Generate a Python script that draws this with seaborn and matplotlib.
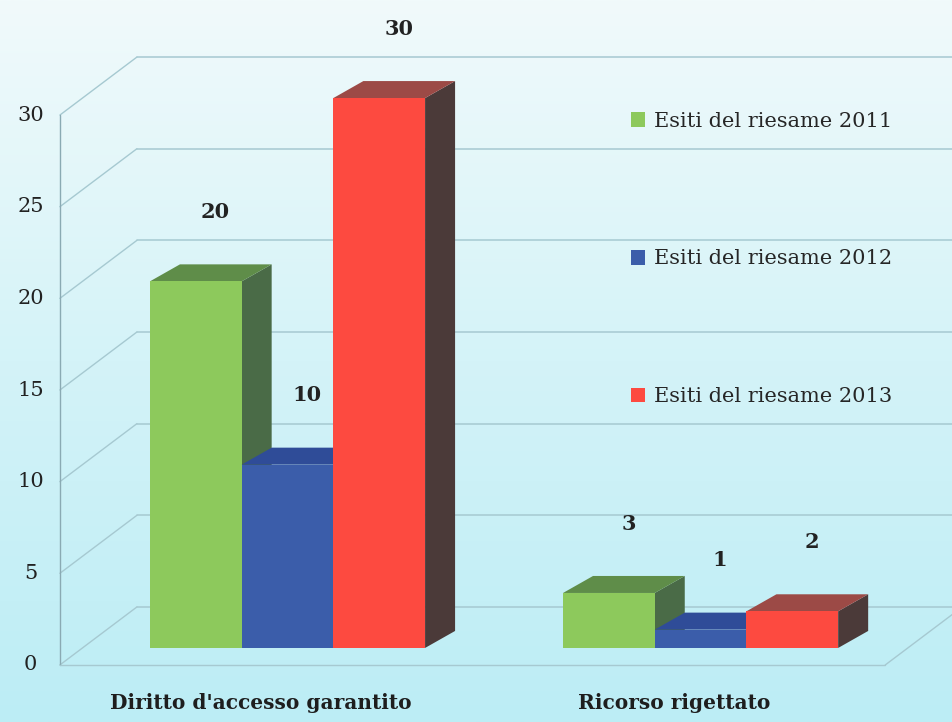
import numpy as np
import pandas as pd
import matplotlib
matplotlib.use("Agg")
import matplotlib.pyplot as plt
from matplotlib.patches import Polygon, Patch
import seaborn as sns

# -------------------------------------
# DATA
# -------------------------------------
categories = ["Diritto d'accesso garantito", "Ricorso rigettato"]
series = ["Esiti del riesame 2011", "Esiti del riesame 2012", "Esiti del riesame 2013"]
values_2011 = [20, 3]
values_2012 = [10, 1]
values_2013 = [30, 2]
y_ticks = [0, 5, 10, 15, 20, 25, 30]

front_colors = ["#8dc95c", "#3b5daa", "#fd4a40"]
top_colors = ["#5f8d49", "#2f4c98", "#9c4a46"]
side_colors = ["#4a6b47", "#24386e", "#4b3a39"]

df = pd.DataFrame({
    "categoria": categories * 3,
    "serie": [series[0]] * 2 + [series[1]] * 2 + [series[2]] * 2,
    "valore": values_2011 + values_2012 + values_2013,
})

# -------------------------------------
# FIGURE
# -------------------------------------
sns.set_style("white")
plt.rcParams["font.family"] = ["DejaVu Serif"]

fig = plt.figure(figsize=(9.53, 7.22), dpi=100)
ax = fig.add_axes([0, 0, 1, 1])

XLIM = (-0.696, 1.611)
YLIM = (-4.04, 35.35)

# -------------------------------------
# BARS (front faces)
# -------------------------------------
sns.barplot(data=df, x="categoria", y="valore", hue="serie", palette=front_colors,
            width=0.666, saturation=1, ax=ax, legend=False, linewidth=0)

# background gradient
grad = np.linspace(0, 1, 256).reshape(-1, 1)
bg = matplotlib.colors.LinearSegmentedColormap.from_list("bg", ["#bcedf5", "#d4f3f8", "#f1fafb"])
ax.imshow(grad, cmap=bg, aspect="auto", origin="lower",
          extent=[XLIM[0], XLIM[1], YLIM[0], YLIM[1]], zorder=0)
ax.set_xlim(*XLIM)
ax.set_ylim(*YLIM)

# depth offsets (pixels -> data)
px = 1 / 413.0
py = 1 / 18.33
wall_dx, wall_dy = 77 * px, 58 * py
bar_dx, bar_dy = 30 * px, 17 * py
floor_off = -17 * py
wall_left = -0.551
wall_right = 1.447

# -------------------------------------
# WALLS / GRID
# -------------------------------------
grid_col = "#a6c9d1"
for v in y_ticks:
    y0 = v + floor_off
    ax.plot([wall_left, wall_left + wall_dx], [y0, y0 + wall_dy], color=grid_col, lw=1, zorder=1)
    ax.plot([wall_left + wall_dx, wall_right + wall_dx + 0.2], [y0 + wall_dy, y0 + wall_dy],
            color=grid_col, lw=1.1, zorder=1)
    ax.text(-0.622, y0, str(v), ha="center", va="center", fontsize=15, color="#222222")
ax.plot([wall_left, wall_left], [floor_off, y_ticks[-1] + floor_off], color="#8aaab3", lw=1, zorder=1)
ax.plot([wall_left, wall_right], [floor_off, floor_off], color=grid_col, lw=1, zorder=1)
ax.plot([wall_right, wall_right + wall_dx], [floor_off, floor_off + wall_dy], color=grid_col, lw=1, zorder=1)

# -------------------------------------
# 3D TOPS / SIDES + LABELS
# -------------------------------------
bar_patches = list(ax.patches)[:6]
# seaborn draws one hue level at a time
colour_idx = {id(p): n // len(categories) for n, p in enumerate(bar_patches)}
bars = sorted(bar_patches, key=lambda p: p.get_x())
for i, p in enumerate(bars):
    x0, w, h = p.get_x(), p.get_width(), p.get_height()
    k = colour_idx[id(p)]
    base = 10 + 3 * i
    side = Polygon([(x0 + w, 0), (x0 + w + bar_dx, bar_dy), (x0 + w + bar_dx, h + bar_dy), (x0 + w, h)],
                   closed=True, facecolor=side_colors[k], edgecolor="none", zorder=base)
    top = Polygon([(x0, h), (x0 + bar_dx, h + bar_dy), (x0 + w + bar_dx, h + bar_dy), (x0 + w, h)],
                  closed=True, facecolor=top_colors[k], edgecolor="none", zorder=base + 1)
    ax.add_patch(side)
    ax.add_patch(top)
    p.set_zorder(base + 2)
    ax.annotate(str(int(round(h))), (x0 + w / 2, h), xytext=(14, 50), textcoords="offset points",
                ha="center", va="center", fontsize=15, fontweight="semibold", color="#222222", zorder=40)

# category labels
for j, c in enumerate(categories):
    ax.text(j - 0.065, -3.0, c, ha="center", va="center", fontsize=14.5, fontweight="bold",
            color="#1e1e1e")

# -------------------------------------
# LEGEND
# -------------------------------------
handles = [Patch(facecolor=c, edgecolor="none") for c in front_colors]
ax.legend(handles, series, loc="upper left", bbox_to_anchor=(612 / 953, 1 - 93 / 722),
          bbox_transform=fig.transFigure, frameon=False, fontsize=15,
          handlelength=0.7, handleheight=0.7, handletextpad=0.4, labelspacing=5.7)

ax.set_axis_off()
fig.savefig("out.png", dpi=100)
